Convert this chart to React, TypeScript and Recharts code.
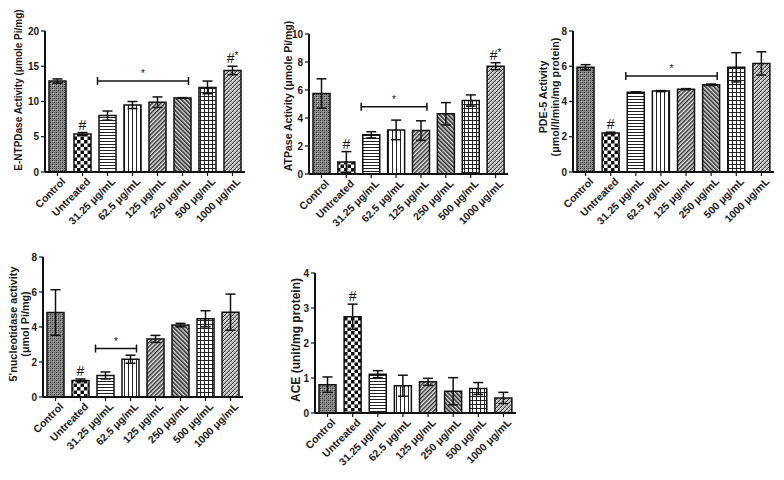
import React from 'react';
import { ComposedChart, Bar, XAxis, YAxis, ErrorBar, Scatter, ReferenceLine, Cell, Label } from 'recharts';

const FONT = '"Liberation Sans", Arial, Helvetica, sans-serif';

// ---- data ----
const categories = ['Control', 'Untreated', '31.25 μg/mL', '62.5 μg/mL', '125 μg/mL', '250 μg/mL', '500 μg/mL', '1000 μg/mL'];

const entpdMean = [12.9, 5.4, 8.0, 9.5, 9.9, 10.5, 12.0, 14.4];
const entpdErr = [0.3, 0.2, 0.65, 0.5, 0.75, 0.05, 0.9, 0.6];
const entpdMarks = ['', '#', '', '', '', '', '', '#*'];

const atpMean = [5.75, 0.85, 2.8, 3.15, 3.1, 4.3, 5.25, 7.7];
const atpErr = [1.05, 0.75, 0.22, 0.7, 0.7, 0.8, 0.4, 0.25];
const atpMarks = ['', '#', '', '', '', '', '', '#*'];

const pdeMean = [5.94, 2.21, 4.52, 4.59, 4.7, 4.95, 5.94, 6.16];
const pdeErr = [0.15, 0.05, 0.03, 0.03, 0.03, 0.04, 0.83, 0.66];
const pdeMarks = ['', '#', '', '', '', '', '', ''];

const ntMean = [4.83, 0.95, 1.23, 2.16, 3.32, 4.11, 4.47, 4.85];
const ntErr = [1.3, 0.08, 0.2, 0.23, 0.2, 0.1, 0.46, 1.03];
const ntMarks = ['', '#', '', '', '', '', '', ''];

const aceMean = [0.81, 2.75, 1.11, 0.78, 0.89, 0.62, 0.7, 0.43];
const aceErr = [0.22, 0.36, 0.1, 0.3, 0.1, 0.39, 0.17, 0.16];
const aceMarks = ['', '#', '', '', '', '', '', ''];

const entpdTicks = [0, 5, 10, 15, 20];
const atpTicks = [0, 2, 4, 6, 8, 10];
const pdeTicks = [0, 2, 4, 6, 8];
const ntTicks = [0, 2, 4, 6, 8];
const aceTicks = [0, 1, 2, 3, 4];

// significance brackets: [fromIndex, toIndex, yValue]
const entpdBracket = [2, 5, 12.9];
const atpBracket = [2, 4, 4.8];
const pdeBracket = [2, 5, 5.44];
const ntBracket = [2, 3, 2.77];

const patternIds = ['pControl', 'pChecker', 'pHoriz', 'pVert', 'pDiagF', 'pDiagB', 'pGrid', 'pCross'];

const buildRows = (mean: number[], err: number[], marks: string[]) =>
  categories.map((c, i) => ({ c, v: mean[i], e: err[i], top: mean[i] + err[i], m: marks[i] }));

const Patterns = () => (
  <svg width={0} height={0} style={{ position: 'absolute' }}>
    <defs>
      <pattern id="pControl" width={4} height={4} patternUnits="userSpaceOnUse">
        <rect width={4} height={4} fill="#8c8c8c" />
        <rect x={0} y={0} width={1} height={1} fill="#2e2e2e" />
        <rect x={2} y={2} width={1} height={1} fill="#2e2e2e" />
        <rect x={2} y={0} width={1} height={1} fill="#555" />
        <rect x={0} y={2} width={1} height={1} fill="#555" />
        <rect x={1} y={1} width={1} height={1} fill="#b5b5b5" />
      </pattern>
      <pattern id="pChecker" width={7} height={7} patternUnits="userSpaceOnUse">
        <rect width={7} height={7} fill="#fff" />
        <rect x={0} y={0} width={3.5} height={3.5} fill="#111" />
        <rect x={3.5} y={3.5} width={3.5} height={3.5} fill="#111" />
      </pattern>
      <pattern id="pHoriz" width={4} height={3} patternUnits="userSpaceOnUse">
        <rect width={4} height={3} fill="#fff" />
        <line x1={0} y1={0.5} x2={4} y2={0.5} stroke="#222" strokeWidth={1} />
      </pattern>
      <pattern id="pVert" width={4} height={4} patternUnits="userSpaceOnUse">
        <rect width={4} height={4} fill="#fff" />
        <line x1={0.5} y1={0} x2={0.5} y2={4} stroke="#222" strokeWidth={1} />
      </pattern>
      <pattern id="pDiagF" width={3} height={3} patternUnits="userSpaceOnUse" patternTransform="rotate(45)">
        <rect width={3} height={3} fill="#e8e8e8" />
        <line x1={0.75} y1={0} x2={0.75} y2={3} stroke="#333" strokeWidth={1.5} />
      </pattern>
      <pattern id="pDiagB" width={3} height={3} patternUnits="userSpaceOnUse" patternTransform="rotate(-45)">
        <rect width={3} height={3} fill="#ddd" />
        <line x1={0.75} y1={0} x2={0.75} y2={3} stroke="#2a2a2a" strokeWidth={1.6} />
      </pattern>
      <pattern id="pGrid" width={4} height={4} patternUnits="userSpaceOnUse">
        <rect width={4} height={4} fill="#fff" />
        <line x1={0.5} y1={0} x2={0.5} y2={4} stroke="#222" strokeWidth={1} />
        <line x1={0} y1={0.5} x2={4} y2={0.5} stroke="#222" strokeWidth={1} />
      </pattern>
      <pattern id="pCross" width={4} height={4} patternUnits="userSpaceOnUse">
        <rect width={4} height={4} fill="#bdbdbd" />
        <line x1={0} y1={4} x2={4} y2={0} stroke="#333" strokeWidth={1} />
        <rect x={0} y={0} width={1} height={1} fill="#fff" />
        <rect x={2} y={2} width={1} height={1} fill="#fff" />
      </pattern>
    </defs>
  </svg>
);

const XTick = (props: any) => {
  const { x, y, payload } = props;
  return (
    <g transform={`translate(${x},${y})`}>
      <text
        x={0}
        y={0}
        dy={9}
        dx={3}
        textAnchor="end"
        transform="rotate(-45)"
        fontSize={10.5}
        fontWeight="bold"
        fontFamily={FONT}
        fill="#1a1a1a"
      >
        {payload.value}
      </text>
    </g>
  );
};

const MarkShape = (props: any) => {
  const { cx, cy, payload } = props;
  if (!payload || !payload.m) return <g />;
  const m: string = payload.m;
  const hash = m.charAt(0);
  const star = m.length > 1 ? m.slice(1) : '';
  return (
    <text x={cx} y={cy - 3} textAnchor="middle" fontSize={14} fontFamily={FONT} fill="#111">
      {hash}
      {star ? (
        <tspan fontSize={10} dy={-4}>
          {star}
        </tspan>
      ) : null}
    </text>
  );
};

const BracketShape = (props: any) => {
  const { x1, y1, x2 } = props;
  if (x1 == null || y1 == null) return <g />;
  const left = Math.min(x1, x2) - 10;
  const right = Math.max(x1, x2) + 6;
  const mid = (left + right) / 2;
  return (
    <g>
      <line x1={left} y1={y1} x2={right} y2={y1} stroke="#111" strokeWidth={1.5} />
      <line x1={left} y1={y1 - 4} x2={left} y2={y1 + 4} stroke="#111" strokeWidth={1.5} />
      <line x1={right} y1={y1 - 4} x2={right} y2={y1 + 4} stroke="#111" strokeWidth={1.5} />
      <text x={mid} y={y1 - 4} textAnchor="middle" fontSize={10} fontFamily={FONT} fill="#111">
        *
      </text>
    </g>
  );
};

type PanelProps = {
  left: number;
  top: number;
  width: number;
  height: number;
  margin: { top: number; right: number; bottom: number; left: number };
  mean: number[];
  err: number[];
  marks: string[];
  ticks: number[];
  titleLines: string[];
  titleX: number[];
  titleY: number;
  titleSize: number;
  bracket?: number[];
};

const Panel = (p: PanelProps) => {
  const rows = buildRows(p.mean, p.err, p.marks);
  const max = p.ticks[p.ticks.length - 1];
  return (
    <div style={{ position: 'absolute', left: p.left, top: p.top, width: p.width, height: p.height }}>
      <ComposedChart width={p.width} height={p.height} data={rows} margin={p.margin}>
        <XAxis
          dataKey="c"
          interval={0}
          height={60}
          tick={<XTick />}
          tickSize={4}
          tickLine={{ stroke: '#111', strokeWidth: 1.2 }}
          axisLine={{ stroke: '#111', strokeWidth: 2 }}
        />
        <YAxis
          width={30}
          domain={[0, max]}
          ticks={p.ticks}
          interval={0}
          tickSize={4}
          tickLine={{ stroke: '#111', strokeWidth: 1.2 }}
          axisLine={{ stroke: '#111', strokeWidth: 2 }}
          tick={{ fontSize: 10, fontWeight: 'bold', fontFamily: FONT, fill: '#1a1a1a' }}
        >
          <Label
            content={() => (
              <g>
                {p.titleLines.map((t, i) => (
                  <text
                    key={i}
                    transform={`translate(${p.titleX[i]},${p.titleY}) rotate(-90)`}
                    textAnchor="middle"
                    dominantBaseline="central"
                    fontSize={p.titleSize}
                    fontWeight="bold"
                    fontFamily={FONT}
                    fill="#1a1a1a"
                  >
                    {t}
                  </text>
                ))}
              </g>
            )}
          />
        </YAxis>
        <Bar dataKey="v" barSize={17} stroke="#111" strokeWidth={1.5} isAnimationActive={false}>
          {rows.map((r, i) => (
            <Cell key={r.c} fill={`url(#${patternIds[i]})`} />
          ))}
          <ErrorBar dataKey="e" width={5} stroke="#111" strokeWidth={1.5} direction="y" />
        </Bar>
        <Scatter dataKey="top" isAnimationActive={false} shape={(s: any) => <MarkShape {...s} />} />
        {p.bracket ? (
          <ReferenceLine
            ifOverflow="visible"
            segment={[
              { x: categories[p.bracket[0]], y: p.bracket[2] },
              { x: categories[p.bracket[1]], y: p.bracket[2] },
            ]}
            shape={(s: any) => <BracketShape {...s} />}
          />
        ) : null}
      </ComposedChart>
    </div>
  );
};

export default function App() {
  return (
    <div style={{ position: 'absolute', left: 0, top: 0, width: 784, height: 480, background: '#fff', fontFamily: FONT }}>
      <Patterns />
      <Panel
        left={0}
        top={0}
        width={260}
        height={240}
        margin={{ top: 31, right: 15, bottom: 8, left: 15 }}
        mean={entpdMean}
        err={entpdErr}
        marks={entpdMarks}
        ticks={entpdTicks}
        titleLines={['E-NTPDase Activity (μmole Pi/mg)']}
        titleX={[18]}
        titleY={90}
        titleSize={10}
        bracket={entpdBracket}
      />
      <Panel
        left={260}
        top={0}
        width={260}
        height={240}
        margin={{ top: 34, right: 12, bottom: 6, left: 19 }}
        mean={atpMean}
        err={atpErr}
        marks={atpMarks}
        ticks={atpTicks}
        titleLines={['ATPase Activity (μmole Pi/mg)']}
        titleX={[28]}
        titleY={96}
        titleSize={10.5}
        bracket={atpBracket}
      />
      <Panel
        left={520}
        top={0}
        width={264}
        height={240}
        margin={{ top: 31, right: 10, bottom: 8, left: 23 }}
        mean={pdeMean}
        err={pdeErr}
        marks={pdeMarks}
        ticks={pdeTicks}
        titleLines={['PDE-5 Activity', '(μmol/l/min/mg protein)']}
        titleX={[23, 35]}
        titleY={97}
        titleSize={10.7}
        bracket={pdeBracket}
      />
      <Panel
        left={0}
        top={240}
        width={260}
        height={240}
        margin={{ top: 17, right: 17, bottom: 23, left: 13 }}
        mean={ntMean}
        err={ntErr}
        marks={ntMarks}
        ticks={ntTicks}
        titleLines={["5'nucleotidase activity", '(μmol Pi/mg)']}
        titleX={[13, 25]}
        titleY={84}
        titleSize={10.8}
        bracket={ntBracket}
      />
      <Panel
        left={260}
        top={240}
        width={260}
        height={240}
        margin={{ top: 33, right: 4, bottom: 7, left: 25 }}
        mean={aceMean}
        err={aceErr}
        marks={aceMarks}
        ticks={aceTicks}
        titleLines={['ACE (unit/mg protein)']}
        titleX={[36]}
        titleY={100}
        titleSize={12}
      />
    </div>
  );
}
